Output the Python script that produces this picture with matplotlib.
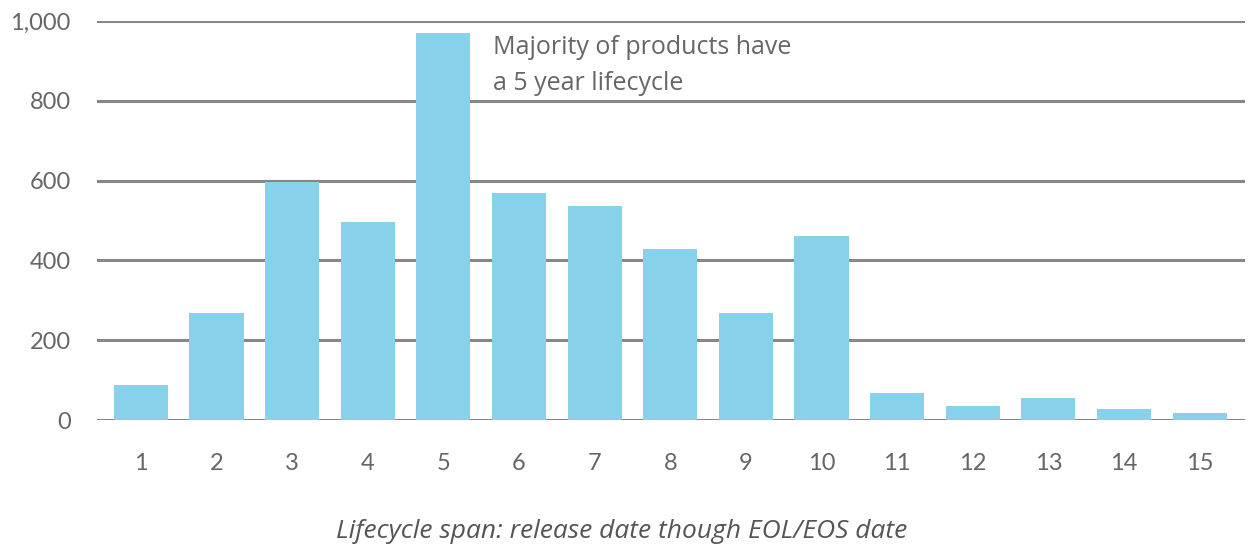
import numpy as np
import matplotlib
matplotlib.use("Agg")
from matplotlib import pyplot as plt

# lifecycle span in years vs. number of products
years = list(range(1, 16))
counts = [88, 268, 597, 497, 970, 570, 537, 429, 268, 462, 68, 35, 55, 28, 18]
y_ticks = [0, 200, 400, 600, 800, 1000]
note = "Majority of products have\na 5 year lifecycle"
x_title = "Lifecycle span: release date though EOL/EOS date"

plt.rcParams["font.family"] = ["Lato", "DejaVu Sans"]

fig = plt.figure(figsize=(12.5, 5.51), dpi=100)
ax = fig.add_axes([0.0776, 0.2377, 0.9184, 0.7242])

ax.bar(years, counts, width=0.715, color="#87D2EA", zorder=3)

ax.set_xlim(0.42, 15.6)
ax.set_ylim(0, 1000)
ax.set_xticks(years)
ax.set_yticks(y_ticks)
ax.set_yticklabels([f"{v:,}" for v in y_ticks])
ax.yaxis.grid(True, color="#878787", linewidth=2.2, zorder=0)
ax.set_axisbelow(True)
for s in ax.spines.values():
    s.set_visible(False)
ax.tick_params(axis="both", length=0, labelsize=17, labelcolor="#666666")
ax.tick_params(axis="y", pad=19)
ax.tick_params(axis="x", pad=24)

ax.text(5.66, 965, note, fontsize=18, color="#666666", va="top", ha="left",
        linespacing=1.6, family=["Open Sans", "DejaVu Sans"])

fig.text(0.497, 0.012, x_title, fontsize=19, style="italic", color="#555555",
         ha="center", va="bottom", family=["Open Sans", "DejaVu Sans"])

fig.savefig("out.png", dpi=100)
